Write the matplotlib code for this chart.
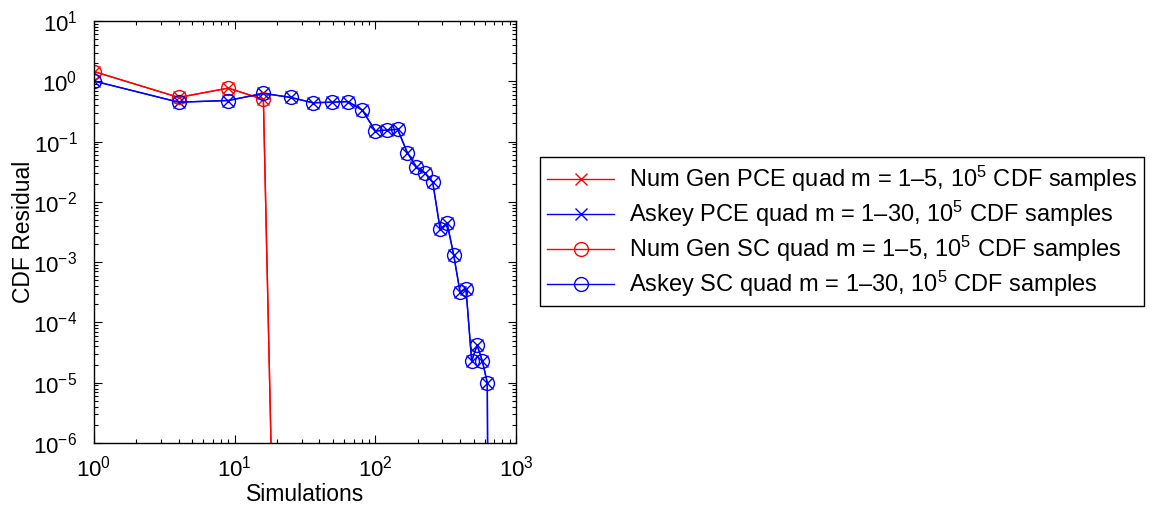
import numpy as np
import matplotlib
matplotlib.use("Agg")
import matplotlib.pyplot as plt
from matplotlib.ticker import LogLocator, NullFormatter

plt.rcParams['font.family'] = ['Liberation Sans', 'DejaVu Sans']
plt.rcParams['mathtext.fontset'] = 'custom'
plt.rcParams['mathtext.rm'] = 'Liberation Sans'
plt.rcParams['mathtext.it'] = 'Liberation Sans:italic'
plt.rcParams['mathtext.bf'] = 'Liberation Sans:bold'

# simulations = m^2
m_numgen = np.arange(1, 6)
m_askey = np.arange(1, 31)
sims_numgen = m_numgen ** 2
sims_askey = m_askey ** 2

# CDF residuals (last values fall far below the axis)
res_numgen_pce = [1.45, 0.54, 0.77, 0.50, 2e-21]
res_numgen_sc = [1.45, 0.54, 0.77, 0.50, 2e-21]
res_askey_pce = [1.01, 0.45, 0.48, 0.63, 0.54, 0.44, 0.45, 0.46, 0.33, 0.15,
                 0.155, 0.16, 0.065, 0.038, 0.030, 0.021, 0.0035, 0.0044, 0.0013, 3.2e-4,
                 3.6e-4, 2.3e-5, 4.2e-5, 2.3e-5, 1.0e-5, 1e-21, 1e-21, 1e-21, 1e-21, 1e-21]
res_askey_sc = list(res_askey_pce)

labels = ["Num Gen PCE quad m = 1\u20135, $10^5$ CDF samples",
          "Askey PCE quad m = 1\u201330, $10^5$ CDF samples",
          "Num Gen SC quad m = 1\u20135, $10^5$ CDF samples",
          "Askey SC quad m = 1\u201330, $10^5$ CDF samples"]

fig = plt.figure(figsize=(11.53, 5.15), dpi=100)
ax = fig.add_axes([94 / 1153, 72 / 515, 422 / 1153, 422 / 515])

ax.plot(sims_numgen, res_numgen_pce, '-x', color='#ff0000', lw=1.0, ms=9, mew=1.0, label=labels[0])
ax.plot(sims_askey, res_askey_pce, '-x', color='#0000ff', lw=1.0, ms=9, mew=1.0, label=labels[1])
ax.plot(sims_numgen, res_numgen_sc, '-o', color='#ff0000', lw=1.0, ms=10, mew=1.0, mfc='none', label=labels[2])
ax.plot(sims_askey, res_askey_sc, '-o', color='#0000ff', lw=1.0, ms=10, mew=1.0, mfc='none', label=labels[3])

ax.set_xscale('log')
ax.set_yscale('log')
ax.set_xlim(1, 1000)
ax.set_ylim(1e-6, 10)
ax.xaxis.set_major_locator(LogLocator(base=10, numticks=10))
ax.yaxis.set_major_locator(LogLocator(base=10, numticks=20))
ax.xaxis.set_minor_locator(LogLocator(base=10, subs=range(2, 10), numticks=20))
ax.yaxis.set_minor_locator(LogLocator(base=10, subs=range(2, 10), numticks=20))
ax.xaxis.set_minor_formatter(NullFormatter())
ax.yaxis.set_minor_formatter(NullFormatter())
ax.tick_params(which='both', direction='in', top=True, right=True, labelsize=16, width=0.8)
ax.tick_params(which='major', length=6)
ax.tick_params(axis='x', which='major', pad=9)
ax.tick_params(axis='y', which='major', pad=12)
ax.tick_params(which='minor', length=3)
for s in ax.spines.values():
    s.set_linewidth(1.0)

ax.set_xlabel('Simulations', fontsize=16.5, labelpad=1)
ax.set_ylabel('CDF Residual', fontsize=16.5, labelpad=-1)

leg = ax.legend(loc='center left', bbox_to_anchor=(540 / 1153, 1 - 231.5 / 515),
                bbox_transform=fig.transFigure, borderaxespad=0, fontsize=17, numpoints=1,
                handlelength=2.85, fancybox=False, framealpha=1, edgecolor='black',
                borderpad=0.3, labelspacing=0.2, handletextpad=0.6)
leg.get_frame().set_linewidth(1.0)

fig.savefig('out.png', dpi=100)
